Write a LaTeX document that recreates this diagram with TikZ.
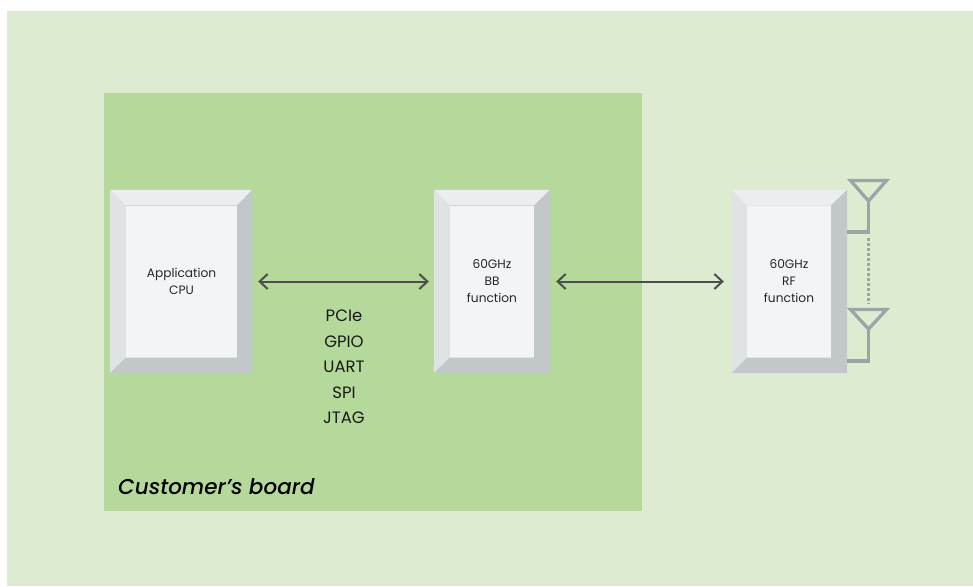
\documentclass[tikz,border=0pt]{standalone}
\usepackage{fontspec}
\setmainfont{Poppins}
\newfontfamily\boardfont{Poppins Medium}
\usetikzlibrary{arrows.meta}
\definecolor{bgpale}{HTML}{DDECD1}
\definecolor{boardgreen}{HTML}{B5D99B}
\definecolor{facelight}{HTML}{F3F4F7}
\definecolor{bevtop}{HTML}{ECEDEF}
\definecolor{bevleft}{HTML}{E0E3E6}
\definecolor{bevdark}{HTML}{C2C7C9}
\definecolor{antgray}{HTML}{9AA5A5}
\definecolor{linkgray}{HTML}{4D4D4D}
\begin{document}
\begin{tikzpicture}[x=1pt,y=-1pt,
    outerbox/.style={rectangle, draw=none, inner sep=0pt, minimum height=183pt},
    facebox/.style={rectangle, fill=facelight, inner sep=0pt, minimum height=152pt, align=center,
        font=\fontsize{12.2}{17}\selectfont, text=black!85},
    linkarrow/.style={{Straight Barb[length=8pt,width=15pt,line width=2pt]}-{Straight Barb[length=8pt,width=15pt,line width=2pt]}, draw=linkgray, line width=2pt, shorten <=6pt},
    antenna/.style={draw=antgray, line width=3.3pt, line join=miter},
    antfeed/.style={draw=antgray, line width=3.3pt}]
    \useasboundingbox (0,0) rectangle (973,586);
    \fill[bgpale] (7,11) rectangle (973,586);
    \fill[boardgreen] (104,93) rectangle (642,511);

    \node[outerbox, minimum width=142pt] (cpuO) at (181,281.5) {};
    \node[outerbox, minimum width=116pt] (bbO) at (492,281.5) {};
    \node[outerbox, minimum width=115pt] (rfO) at (789.5,281.5) {};

    \node[facebox, minimum width=111pt] (cpu) at (181.5,281.5) {Application\\CPU};
    \node[facebox, minimum width=84pt] (bb) at (492,281.5) {60GHz\\BB\\function};
    \node[facebox, minimum width=84pt] (rf) at (789,281.5) {60GHz\\RF\\function};

    % bevels
    \foreach \n in {cpu,bb,rf} {
        \fill[bevtop] (\n O.north west) -- (\n O.north east) -- (\n.north east) -- (\n.north west) -- cycle;
        \fill[bevleft] (\n O.north west) -- (\n O.south west) -- (\n.south west) -- (\n.north west) -- cycle;
        \fill[bevdark] (\n O.north east) -- (\n O.south east) -- (\n O.south west) -- (\n.south west) -- (\n.south east) -- (\n.north east) -- cycle;
    }

    \draw[linkarrow, shorten >=5pt] (cpuO.east) -- (bbO.west);
    \draw[linkarrow, shorten >=8pt] (bbO.east) -- (rfO.west);

    \node[align=center, font=\fontsize{16.5}{25.6}\selectfont, text=black!90] (ifaces) at (344,367) {PCIe\\GPIO\\UART\\SPI\\JTAG};
    \node[anchor=west, inner sep=0pt, font=\boardfont\fontsize{21.5}{26}\selectfont\itshape, text=black] (boardlabel) at (118,487) {Customer’s board};

    % antennas
    \coordinate (antA) at (868.5,201);
    \coordinate (antB) at (868.5,329);
    \coordinate (feedA) at (868.5,232);
    \coordinate (feedB) at (868.5,361);
    \coordinate (rfA) at (847,232);
    \coordinate (rfB) at (847,361);
    \draw[antenna] (850.5,180.5) -- (886.5,180.5) -- (antA) -- cycle;
    \draw[antenna] (850.5,309.5) -- (886.5,309.5) -- (antB) -- cycle;
    \draw[antfeed] (antA) -- (feedA) -- (rfA);
    \draw[antfeed] (antB) -- (feedB) -- (rfB);
    \draw[antfeed, line width=3pt, dash pattern=on 3pt off 2pt] (868.5,238) -- (868.5,304);
\end{tikzpicture}
\end{document}
